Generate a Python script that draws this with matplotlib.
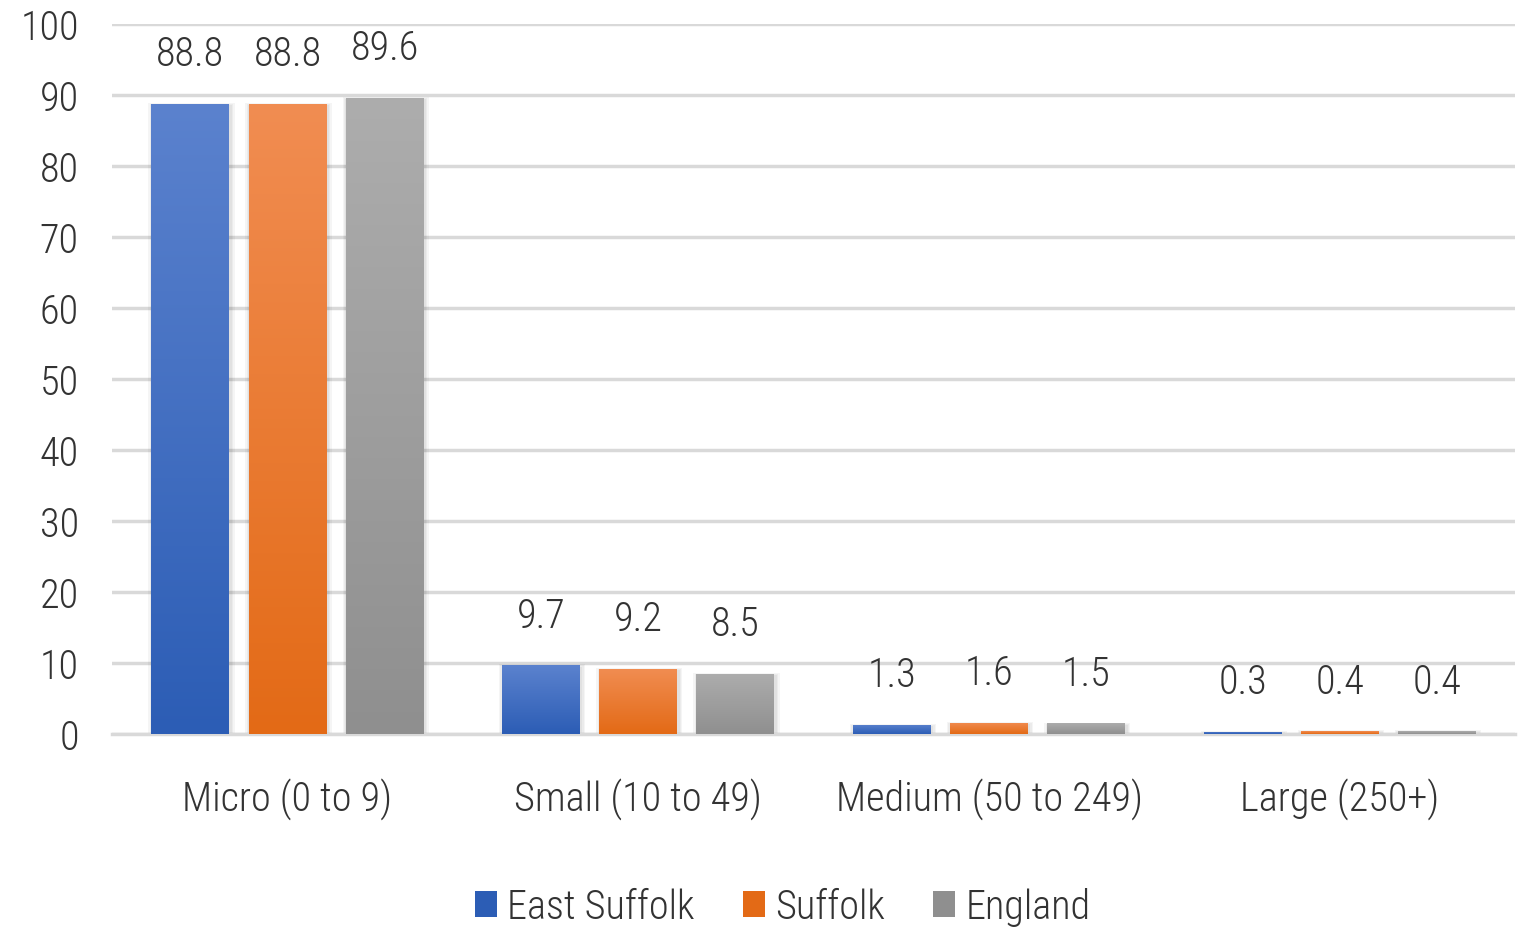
import numpy as np
import matplotlib.pyplot as plt
from matplotlib.colors import LinearSegmentedColormap
from matplotlib.patches import Patch

categories = ['Micro (0 to 9)', 'Small (10 to 49)', 'Medium (50 to 249)', 'Large (250+)']
series = ['East Suffolk', 'Suffolk', 'England']
east_suffolk = [88.8, 9.7, 1.3, 0.3]
suffolk = [88.8, 9.2, 1.6, 0.4]
england = [89.6, 8.5, 1.5, 0.4]
yticks = [0, 10, 20, 30, 40, 50, 60, 70, 80, 90, 100]

# top colour, bottom colour for each series gradient
grad = [('#5B82CE', '#2C5DB5'), ('#F18D52', '#E36A16'), ('#ADADAD', '#8F8F8F')]

plt.rcParams['font.family'] = ['Liberation Sans Narrow', 'DejaVu Sans Condensed',
                               'Roboto Condensed', 'Open Sans Condensed', 'DejaVu Sans']
plt.rcParams['font.stretch'] = 'condensed'
plt.rcParams['font.weight'] = 'light'
txt = '#333333'
fs = 29

fig = plt.figure(figsize=(15.29, 9.28), dpi=100)
ax = fig.add_axes([0.0733, 0.208, 0.9177, 0.765])

width = 0.222
offset = 0.277
x = np.arange(len(categories))

for i, vals in enumerate([east_suffolk, suffolk, england]):
    cmap = LinearSegmentedColormap.from_list('g%d' % i, [grad[i][1], grad[i][0]])
    xs = x + (i - 1) * offset
    # soft shadow
    for k in range(3):
        pad = 0.004 * (k + 1)
        ax.bar(xs + 0.003, np.array(vals) + 0.15 * k, width=width + 2 * pad,
               bottom=-0.2, color='black', alpha=0.04, linewidth=0, zorder=2)
    bars = ax.bar(xs, vals, width=width, color=grad[i][0], linewidth=0, zorder=3)
    for b, v in zip(bars, vals):
        x0, x1 = b.get_x(), b.get_x() + b.get_width()
        im = ax.imshow(np.linspace(0, 1, 256).reshape(-1, 1), cmap=cmap,
                       extent=[x0, x1, 0, v], origin='lower', aspect='auto', zorder=4)
        im.set_clip_path(b)
        ax.text(b.get_x() + b.get_width() / 2, v + 4.3, f'{v:.1f}', ha='center', va='bottom',
                fontsize=fs, color=txt, zorder=5)

ax.set_xlim(-0.5, 3.5)
ax.set_ylim(0, 100)
ax.set_yticks(yticks)
ax.set_yticklabels([str(t) for t in yticks])
ax.set_xticks(x)
ax.set_xticklabels(categories)
ax.tick_params(axis='both', length=0, labelsize=fs, colors=txt)
ax.tick_params(axis='y', pad=24)
ax.tick_params(axis='x', pad=31)
ax.yaxis.grid(True, color='#D9D9D9', linewidth=2.5, zorder=0)
ax.set_axisbelow(True)
for s in ['top', 'right', 'left']:
    ax.spines[s].set_visible(False)
ax.spines['bottom'].set_color('#D9D9D9')
ax.spines['bottom'].set_linewidth(2.5)

handles = [Patch(facecolor=grad[i][1], edgecolor='none') for i in range(3)]
fig.legend(handles, series, loc='lower center', bbox_to_anchor=(0.512, -0.038), ncol=3,
           frameon=False, fontsize=fs, labelcolor=txt, handlelength=0.55, handleheight=0.6,
           handletextpad=0.25, columnspacing=1.2)

fig.savefig('out.png', dpi=100)
